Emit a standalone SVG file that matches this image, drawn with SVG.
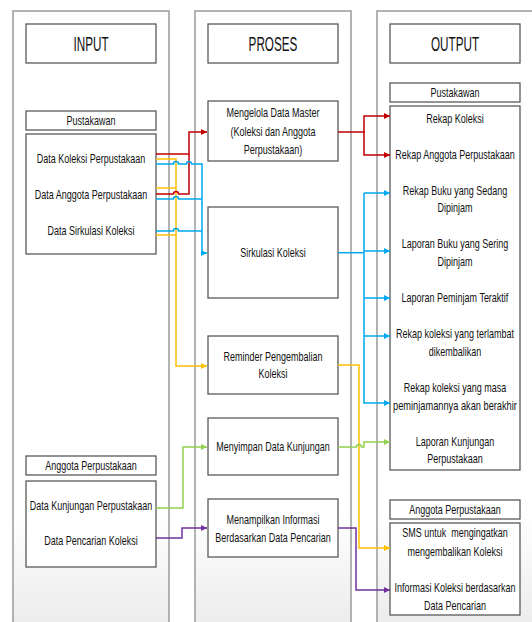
<svg xmlns="http://www.w3.org/2000/svg" width="532" height="622" viewBox="0 0 532 622">
<defs>
<linearGradient id="colg" x1="0" y1="0" x2="0" y2="1">
<stop offset="0" stop-color="#ffffff"/>
<stop offset="0.8" stop-color="#ffffff"/>
<stop offset="1" stop-color="#e9e9e9"/>
</linearGradient>
<marker id="mr" markerWidth="8" markerHeight="8" refX="6" refY="3" orient="auto" markerUnits="userSpaceOnUse"><path d="M0,0 L6,3 L0,6 z" fill="#c00000"/></marker>
<marker id="mb" markerWidth="8" markerHeight="8" refX="6" refY="3" orient="auto" markerUnits="userSpaceOnUse"><path d="M0,0 L6,3 L0,6 z" fill="#00a8f0"/></marker>
<marker id="my" markerWidth="8" markerHeight="8" refX="6" refY="3" orient="auto" markerUnits="userSpaceOnUse"><path d="M0,0 L6,3 L0,6 z" fill="#ffc000"/></marker>
<marker id="mg" markerWidth="8" markerHeight="8" refX="6" refY="3" orient="auto" markerUnits="userSpaceOnUse"><path d="M0,0 L6,3 L0,6 z" fill="#92d050"/></marker>
<marker id="mp" markerWidth="8" markerHeight="8" refX="6" refY="3" orient="auto" markerUnits="userSpaceOnUse"><path d="M0,0 L6,3 L0,6 z" fill="#7030a0"/></marker>
</defs>
<style>
.col{fill:url(#colg);stroke:#9a9a9a;stroke-width:1.5}
.box{fill:#ffffff;stroke:#5a5a5a;stroke-width:1.3}
.h{font-family:"Liberation Sans",Arial,sans-serif;font-size:19.5px;fill:#111111;text-anchor:middle}
.t{font-family:"Liberation Sans",Arial,sans-serif;font-size:12.5px;fill:#111111;text-anchor:middle}
.c{fill:none;stroke-width:1.5}
.r{stroke:#c00000}
.b{stroke:#00a8f0}
.y{stroke:#ffc000}
.g{stroke:#92d050}
.p{stroke:#7030a0}
</style>
<rect width="532" height="622" fill="#ffffff"/>
<g id="columns">
<rect class="col" x="13" y="11" width="156" height="630"/>
<rect class="col" x="195" y="11" width="156" height="630"/>
<rect class="col" x="377" y="11" width="170" height="630"/>
</g>
<g id="input-header"><rect class="box" x="26" y="24" width="130" height="39"/><text class="h" transform="scale(0.6 1)" x="151.67" y="51">INPUT</text></g>
<g id="proses-header"><rect class="box" x="208" y="24" width="130" height="39"/><text class="h" transform="scale(0.6 1)" x="455" y="51">PROSES</text></g>
<g id="output-header"><rect class="box" x="390" y="24" width="130" height="39"/><text class="h" transform="scale(0.6 1)" x="758.33" y="51">OUTPUT</text></g>

<g id="in-pustakawan-label"><rect class="box" x="26" y="111" width="130" height="19"/><text class="t" transform="scale(0.72 1)" x="126.39" y="125">Pustakawan</text></g>
<g id="in-pustakawan">
<rect class="box" x="26" y="134" width="130" height="120"/>
<text class="t" transform="scale(0.72 1)" x="126.39" y="163">Data Koleksi Perpustakaan</text>
<text class="t" transform="scale(0.72 1)" x="126.39" y="199">Data Anggota Perpustakaan</text>
<text class="t" transform="scale(0.72 1)" x="126.39" y="235">Data Sirkulasi Koleksi</text>
</g>
<g id="in-anggota-label"><rect class="box" x="26" y="456" width="130" height="19"/><text class="t" transform="scale(0.72 1)" x="126.39" y="470.5">Anggota Perpustakaan</text></g>
<g id="in-anggota">
<rect class="box" x="26" y="481" width="130" height="86"/>
<text class="t" transform="scale(0.72 1)" x="126.39" y="510">Data Kunjungan Perpustakaan</text>
<text class="t" transform="scale(0.72 1)" x="126.39" y="545">Data Pencarian Koleksi</text>
</g>

<g id="p-master"><rect class="box" x="208" y="101" width="130" height="60"/>
<text class="t" transform="scale(0.72 1)" x="379.17" y="117.5">Mengelola Data Master</text>
<text class="t" transform="scale(0.72 1)" x="379.17" y="136.5">(Koleksi dan Anggota</text>
<text class="t" transform="scale(0.72 1)" x="379.17" y="154">Perpustakaan)</text></g>
<g id="p-sirkulasi"><rect class="box" x="208" y="207" width="130" height="91"/>
<text class="t" transform="scale(0.72 1)" x="379.17" y="257">Sirkulasi Koleksi</text></g>
<g id="p-reminder"><rect class="box" x="208" y="336" width="130" height="58"/>
<text class="t" transform="scale(0.72 1)" x="379.17" y="361">Reminder Pengembalian</text>
<text class="t" transform="scale(0.72 1)" x="379.17" y="378.5">Koleksi</text></g>
<g id="p-kunjungan"><rect class="box" x="208" y="418" width="130" height="57"/>
<text class="t" transform="scale(0.72 1)" x="379.17" y="451">Menyimpan Data Kunjungan</text></g>
<g id="p-informasi"><rect class="box" x="208" y="499" width="130" height="58"/>
<text class="t" transform="scale(0.72 1)" x="379.17" y="524">Menampilkan Informasi</text>
<text class="t" transform="scale(0.72 1)" x="379.17" y="542">Berdasarkan Data Pencarian</text></g>

<g id="out-pustakawan-label"><rect class="box" x="390" y="83" width="130" height="19"/><text class="t" transform="scale(0.72 1)" x="631.94" y="97">Pustakawan</text></g>
<g id="out-pustakawan">
<rect class="box" x="390" y="106" width="130" height="364"/>
<text class="t" transform="scale(0.72 1)" x="631.94" y="123">Rekap Koleksi</text>
<text class="t" transform="scale(0.72 1)" x="631.94" y="159">Rekap Anggota Perpustakaan</text>
<text class="t" transform="scale(0.72 1)" x="631.94" y="195">Rekap Buku yang Sedang</text>
<text class="t" transform="scale(0.72 1)" x="631.94" y="212.5">Dipinjam</text>
<text class="t" transform="scale(0.72 1)" x="631.94" y="248.5">Laporan Buku yang Sering</text>
<text class="t" transform="scale(0.72 1)" x="631.94" y="266">Dipinjam</text>
<text class="t" transform="scale(0.72 1)" x="631.94" y="302">Laporan Peminjam Teraktif</text>
<text class="t" transform="scale(0.72 1)" x="631.94" y="338">Rekap koleksi yang terlambat</text>
<text class="t" transform="scale(0.72 1)" x="631.94" y="356">dikembalikan</text>
<text class="t" transform="scale(0.72 1)" x="631.94" y="392.5">Rekap koleksi yang masa</text>
<text class="t" transform="scale(0.74 1)" x="614.86" y="410">peminjamannya akan berakhir</text>
<text class="t" transform="scale(0.72 1)" x="631.94" y="446">Laporan Kunjungan</text>
<text class="t" transform="scale(0.72 1)" x="631.94" y="463.5">Perpustakaan</text>
</g>
<g id="out-anggota-label"><rect class="box" x="390" y="500" width="130" height="19"/><text class="t" transform="scale(0.72 1)" x="631.94" y="514">Anggota Perpustakaan</text></g>
<g id="out-anggota">
<rect class="box" x="390" y="523" width="130" height="92"/>
<text class="t" transform="scale(0.72 1)" x="631.94" y="537.5" xml:space="preserve">SMS untuk  mengingatkan</text>
<text class="t" transform="scale(0.72 1)" x="631.94" y="556">mengembalikan Koleksi</text>
<text class="t" transform="scale(0.72 1)" x="631.94" y="592.5">Informasi Koleksi berdasarkan</text>
<text class="t" transform="scale(0.72 1)" x="631.94" y="610">Data Pencarian</text>
</g>

<g id="connectors">
<!-- yellow input -->
<path class="c y" d="M156,159 H176 V366 H207" marker-end="url(#my)"/>
<path class="c y" d="M156,188 H176"/>
<path class="c y" d="M156,235 H176"/>
<!-- red input -->
<path class="c r" d="M156,194 H173.5 a2.5,2.5 0 0 1 5,0 H189 V132 H207" marker-end="url(#mr)"/>
<path class="c r" d="M156,154 H189"/>
<!-- blue input -->
<path class="c b" d="M156,164 H173.5 a2.5,2.5 0 0 1 5,0 H186.5 a2.5,2.5 0 0 1 5,0 H202 V253 H207" marker-end="url(#mb)"/>
<path class="c b" d="M156,199 H173.5 a2.5,2.5 0 0 1 5,0 H202"/>
<path class="c b" d="M156,231 H173.5 a2.5,2.5 0 0 1 5,0 H202"/>
<!-- green input -->
<path class="c g" d="M156,508 H183 V447 H207" marker-end="url(#mg)"/>
<!-- purple input -->
<path class="c p" d="M156,538 H182 V528 H207" marker-end="url(#mp)"/>
<!-- red output -->
<path class="c r" d="M338,132 H364 V116 H390" marker-end="url(#mr)"/>
<path class="c r" d="M364,131 V155 H390" marker-end="url(#mr)"/>
<!-- blue output -->
<path class="c b" d="M338,252.7 H363.5"/>
<path class="c b" d="M364,193 V403"/>
<path class="c b" d="M364,193 H390" marker-end="url(#mb)"/>
<path class="c b" d="M364,251 H390" marker-end="url(#mb)"/>
<path class="c b" d="M364,298 H390" marker-end="url(#mb)"/>
<path class="c b" d="M364,336 H390" marker-end="url(#mb)"/>
<path class="c b" d="M363.25,403 H390" marker-end="url(#mb)"/>
<!-- yellow output -->
<path class="c y" d="M338,365 H359 V548 H390" marker-end="url(#my)"/>
<!-- green output -->
<path class="c g" d="M338,447 H356.5 a2.5,2.5 0 0 1 5,0 H364 V442 H390" marker-end="url(#mg)"/>
<!-- purple output -->
<path class="c p" d="M338,528 H356 V590 H390" marker-end="url(#mp)"/>
</g>
</svg>
